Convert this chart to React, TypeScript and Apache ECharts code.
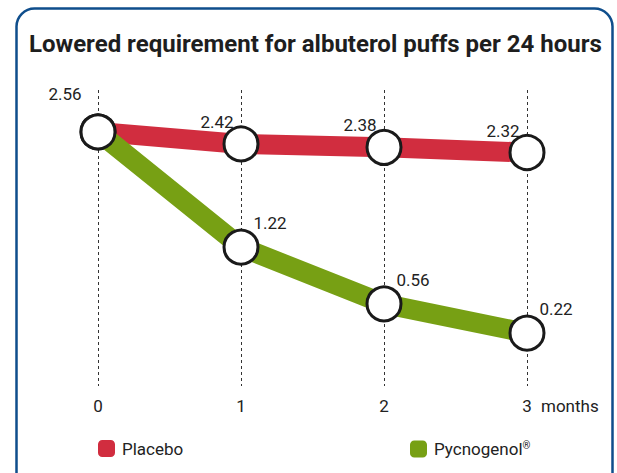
import React, { useEffect, useRef } from "react";
import * as echarts from "echarts";

const months = ["0", "1", "2", "3"];
const placebo = [2.56, 2.42, 2.38, 2.32];
const pycnogenol = [2.56, 1.22, 0.56, 0.22];
const seriesNames = ["Placebo", "Pycnogenol®"];
const title = "Lowered requirement for albuterol puffs per 24 hours";
const unitLabel = "months";

const FONT = "Roboto, 'Noto Sans', sans-serif";
const FS = 17;
const RED = "#d12d3f";
const GREEN = "#77a014";

export default function App() {
  const ref = useRef<HTMLDivElement>(null);
  useEffect(() => {
    document.body.style.margin = "0";
    if (!ref.current) return;
    const chart = echarts.init(ref.current, null, { renderer: "svg" });
    const symbolStyle = { color: "#ffffff", borderColor: "#1a1a1a", borderWidth: 3 };
    const labelBase = { show: true, position: "top", fontFamily: FONT, fontSize: FS, color: "#222" };
    chart.setOption({
      animation: false,
      backgroundColor: "#ffffff",
      title: {
        text: title,
        left: 24,
        top: 27,
        textStyle: { fontFamily: FONT, fontSize: 24, fontWeight: "bold", color: "#1e1e1e" },
      },
      grid: { left: 98, right: 90, top: 90, bottom: 87 },
      xAxis: {
        type: "category",
        data: months,
        boundaryGap: false,
        axisLine: { show: false },
        axisTick: { show: false },
        axisLabel: { fontFamily: FONT, fontSize: FS, color: "#222", margin: 11 },
        splitLine: { show: true, lineStyle: { type: [3, 3], color: "#333", width: 1 } },
      },
      yAxis: {
        type: "value",
        min: -0.395,
        max: 3.047,
        show: false,
        splitLine: { show: false },
      },
      legend: [
        {
          data: [{ name: seriesNames[0], itemStyle: { color: RED, borderWidth: 0 } }],
          left: 93,
          top: 435,
          icon: "roundRect",
          itemWidth: 17,
          itemHeight: 17,
          itemGap: 0,
          textStyle: { fontFamily: FONT, fontSize: FS, color: "#222", padding: [0, 0, 0, 2] },
        },
        {
          data: [{ name: seriesNames[1], itemStyle: { color: GREEN, borderWidth: 0 } }],
          left: 405,
          top: 435,
          icon: "roundRect",
          itemWidth: 17,
          itemHeight: 17,
          itemGap: 0,
          formatter: (n: string) => n.replace("®", "{sup|®}"),
          textStyle: {
            fontFamily: FONT,
            fontSize: FS,
            color: "#222",
            padding: [0, 0, 0, 2],
            rich: { sup: { fontFamily: FONT, fontSize: 10, color: "#222", padding: [0, 0, 8, 0] } },
          },
        },
      ],
      graphic: [
        {
          type: "rect",
          shape: { x: 16.5, y: 8.5, width: 596, height: 490, r: 18 },
          style: { fill: "none", stroke: "#0f4e8c", lineWidth: 2.5 },
          silent: true,
        },
        {
          type: "text",
          left: 541,
          top: 397,
          style: { text: unitLabel, fontFamily: FONT, fontSize: FS, fill: "#222" },
        },
      ],
      series: [
        {
          name: seriesNames[0],
          type: "line",
          data: placebo.map((v, i) => ({
            value: v,
            label: i === 0 ? { offset: [-33, -6] } : { offset: [-24, 10] },
          })),
          lineStyle: { color: RED, width: 20, join: "miter" },
          symbol: "circle",
          symbolSize: 34,
          itemStyle: symbolStyle,
          label: labelBase,
          z: 2,
        },
        {
          name: seriesNames[1],
          type: "line",
          data: pycnogenol.map((v, i) => ({
            value: v,
            label: i === 0 ? { show: false } : { offset: [29, 8] },
          })),
          lineStyle: { color: GREEN, width: 20, join: "miter" },
          symbol: "circle",
          symbolSize: 34,
          itemStyle: symbolStyle,
          label: labelBase,
          z: 3,
        },
      ],
    });
    return () => chart.dispose();
  }, []);
  return <div ref={ref} style={{ width: 617, height: 473 }} />;
}
